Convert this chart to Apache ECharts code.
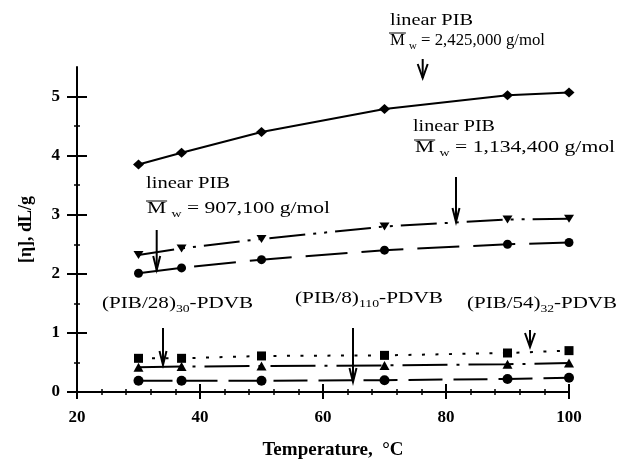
<!DOCTYPE html>
<html>
<head>
<meta charset="utf-8">
<script src="https://cdn.jsdelivr.net/npm/echarts/dist/echarts.min.js"></script>
<style>
  html, body { margin: 0; padding: 0; background: #fff; }
  #chart { width: 618px; height: 462px; }
</style>
</head>
<body>
<div id="chart"></div>
<script>
// temperatures (°C) and intrinsic viscosities (dL/g)
const temps = [30, 37, 50, 70, 90, 100];
const pib2425k = [3.85, 4.05, 4.40, 4.79, 5.02, 5.07];
const pib1134k = [2.32, 2.43, 2.59, 2.80, 2.92, 2.93];
const pib907k = [2.01, 2.10, 2.24, 2.40, 2.50, 2.53];
const pib54 = [0.57, 0.57, 0.61, 0.62, 0.66, 0.70];
const pib28 = [0.42, 0.43, 0.44, 0.45, 0.47, 0.49];
const pib8 = [0.19, 0.19, 0.19, 0.20, 0.22, 0.24];

const xMajor = [20, 40, 60, 80, 100];
const xMinor = [24, 28, 32, 36, 44, 48, 52, 56, 64, 68, 72, 76, 84, 88, 92, 96];
const yMajor = [0, 1, 2, 3, 4, 5];
const yMinor = [0.5, 1.5, 2.5, 3.5, 4.5];

const serif = "'Liberation Serif', 'Times New Roman', serif";
const pairs = (ys) => temps.map((t, i) => [t, ys[i]]);

function tickAxis(dim, ticks, inside, len, extra) {
  const ax = {
    type: 'value',
    min: dim === 'x' ? 20 : 0,
    max: dim === 'x' ? 100 : 5.5,
    position: dim === 'x' ? 'bottom' : 'left',
    axisLine: { show: false, onZero: false },
    axisTick: { show: true, inside: inside, length: len, customValues: ticks,
      lineStyle: { color: '#000', width: len > 5 ? 2 : 1.5 } },
    axisLabel: { show: false },
    splitLine: { show: false }
  };
  return Object.assign(ax, extra || {});
}

const xAxes = [
  tickAxis('x', xMajor, false, 7, {
    axisLine: { show: true, onZero: false, lineStyle: { color: '#000', width: 2 } },
    axisLabel: { show: true, customValues: xMajor, margin: 17, color: '#000',
      fontFamily: serif, fontWeight: 'bold', fontSize: 17 },
    name: 'Temperature,  \u00b0C', nameLocation: 'middle', nameGap: 49,
    nameTextStyle: { color: '#000', fontFamily: serif, fontWeight: 'bold', fontSize: 19,
      padding: [0, 0, 0, 20] }
  }),
  tickAxis('x', xMajor, true, 8),
  tickAxis('x', xMinor, false, 3),
  tickAxis('x', xMinor, true, 3)
];

const yAxes = [
  tickAxis('y', yMajor, false, 10, {
    axisLine: { show: true, onZero: false, lineStyle: { color: '#000', width: 2 } },
    axisLabel: { show: true, customValues: yMajor, margin: 17, color: '#000',
      fontFamily: serif, fontWeight: 'bold', fontSize: 17 },
    name: '[\u03b7], dL/g', nameLocation: 'middle', nameGap: 42, nameRotate: 90,
    nameTextStyle: { color: '#000', fontFamily: serif, fontWeight: 'bold', fontSize: 18 }
  }),
  tickAxis('y', yMajor, true, 10),
  tickAxis('y', yMinor, false, 3),
  tickAxis('y', yMinor, true, 3)
];

function series(name, ys, symbol, size, rotate, dash) {
  return {
    name: name, type: 'line', data: pairs(ys),
    symbol: symbol, symbolSize: size, symbolRotate: rotate,
    itemStyle: { color: '#000' },
    lineStyle: { color: '#000', width: 2, type: dash, cap: 'butt' },
    z: 3
  };
}

// annotation texts: left x, centre y, target width (px)
const notes = [
  { x: 390, y: 21, w: 83, parts: [['linear PIB', 17]] },
  { x: 390, y: 41, w: 155, bar: true, parts: [['M', 17], [' ', 17], ['w', 11], [' = 2,425,000 g/mol', 17]] },
  { x: 413, y: 127, w: 82, parts: [['linear PIB', 17]] },
  { x: 415, y: 148, w: 200, bar: true, parts: [['M', 17], [' ', 17], ['w', 11], [' = 1,134,400 g/mol', 17]] },
  { x: 146, y: 184, w: 84, parts: [['linear PIB', 17]] },
  { x: 147, y: 209, w: 183, bar: true, parts: [['M', 17], [' ', 17], ['w', 11], [' = 907,100 g/mol', 17]] },
  { x: 102, y: 304, w: 151, parts: [['(PIB/28)', 17], ['30', 11], ['-PDVB', 17]] },
  { x: 295, y: 299, w: 148, parts: [['(PIB/8)', 17], ['110', 11], ['-PDVB', 17]] },
  { x: 467, y: 304, w: 150, parts: [['(PIB/54)', 17], ['32', 11], ['-PDVB', 17]] }
];

// arrows: x, top, tip, head half width
const arrows = [
  [422.7, 59, 78, 5], [456, 177, 222, 3.5], [156.7, 230, 270, 3.5],
  [163, 328, 365, 3.5], [353, 328, 382, 3.5], [530, 330, 347, 5]
];

const ctx = document.createElement('canvas').getContext('2d');
const measure = (s, size) => { ctx.font = size + 'px ' + serif; return ctx.measureText(s).width; };

const graphic = [];
notes.forEach((n) => {
  let text = '';
  let natural = 0;
  n.parts.forEach((p) => {
    text += '{' + (p[1] === 17 ? 'a' : 's') + '|' + p[0] + '}';
    natural += measure(p[0], p[1]);
  });
  const sx = n.w / natural;
  graphic.push({
    type: 'text', x: n.x, y: n.y, scaleX: sx, silent: true,
    style: {
      text: text, align: 'left', verticalAlign: 'middle', fill: '#000',
      rich: {
        a: { fontFamily: serif, fontSize: 17, lineHeight: 22, fill: '#000' },
        s: { fontFamily: serif, fontSize: 11, lineHeight: 11, verticalAlign: 'bottom', fill: '#000' }
      }
    }
  });
  if (n.bar) {
    const mw = measure('M', 17) * sx;
    graphic.push({ type: 'line', silent: true,
      shape: { x1: n.x - 1, y1: n.y - 8, x2: n.x + mw + 1, y2: n.y - 8 },
      style: { stroke: '#000', lineWidth: 1 } });
  }
});
arrows.forEach((a) => {
  graphic.push({ type: 'line', silent: true,
    shape: { x1: a[0], y1: a[1], x2: a[0], y2: a[2] },
    style: { stroke: '#000', lineWidth: 2 } });
  graphic.push({ type: 'polyline', silent: true,
    shape: { points: [[a[0] - a[3], a[2] - 14], [a[0], a[2]], [a[0] + a[3], a[2] - 14]] },
    style: { stroke: '#000', lineWidth: 2, fill: null } });
});

const chart = echarts.init(document.getElementById('chart'), null, { renderer: 'canvas' });
chart.setOption({
  animation: false,
  backgroundColor: '#fff',
  grid: { left: 77, right: 49, top: 67, bottom: 70, outerBoundsMode: 'none' },
  xAxis: xAxes,
  yAxis: yAxes,
  series: [
    series('linear PIB 2,425,000', pib2425k, 'diamond', [11, 10], 0, 'solid'),
    series('linear PIB 1,134,400', pib1134k, 'triangle', [10, 8], 180, [36, 8, 3, 8, 3, 8]),
    series('linear PIB 907,100', pib907k, 'circle', 9, 0, [42, 14]),
    series('(PIB/54)32-PDVB', pib54, 'rect', 9, 0, [3, 10.5]),
    series('(PIB/28)30-PDVB', pib28, 'triangle', [10, 9], 0, [45, 9, 3, 9]),
    series('(PIB/8)110-PDVB', pib8, 'circle', 10, 0, [34, 11])
  ],
  graphic: graphic
});
</script>
</body>
</html>
